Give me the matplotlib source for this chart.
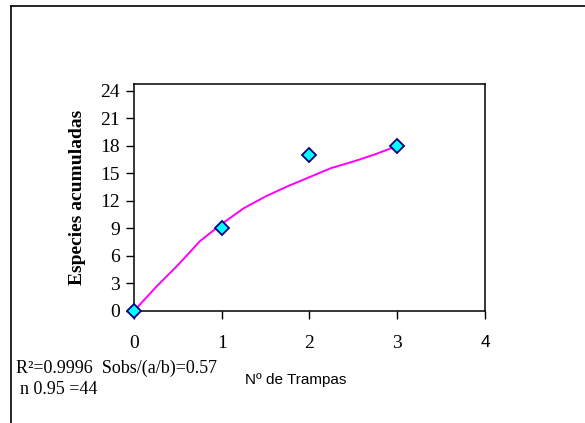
import matplotlib
matplotlib.use("Agg")
import matplotlib.pyplot as plt
from matplotlib.lines import Line2D

# observed points
trampas = [0, 1, 2, 3]
especies = [0, 9, 17, 18]

# fitted curve
curva_x = [0, 0.25, 0.5, 0.75, 1.0, 1.25, 1.5, 1.75, 2.0, 2.25, 2.5, 2.75, 3.0]
curva_y = [0, 2.6, 5.0, 7.6, 9.5, 11.2, 12.5, 13.6, 14.6, 15.6, 16.3, 17.1, 18.0]

yticks = [0, 3, 6, 9, 12, 15, 18, 21, 24]
xticks = [0, 1, 2, 3, 4]

serif = "Liberation Serif"
sans = "Liberation Sans"

fig = plt.figure(figsize=(5.85, 4.23), dpi=100)
ax = fig.add_axes([0.229, 0.2648, 0.6, 0.5366])

ax.plot(curva_x, curva_y, color="#FF00FF", lw=1.4, zorder=2)
ax.plot(trampas, especies, ls="none", marker="D", ms=7.2,
        mfc="#00FFFF", mec="#000080", mew=1.3, zorder=3, clip_on=False)

ax.set_xlim(0, 4)
ax.set_ylim(0, 24.76)
ax.set_xticks(xticks)
ax.set_yticks(yticks)
ax.set_yticklabels([str(v) for v in yticks], fontfamily=serif, fontsize=14)
ax.set_xticklabels([str(v) for v in xticks], fontfamily=serif, fontsize=14)
# last x label is drawn in a sans font in the original
ax.get_xticklabels()[-1].set_fontfamily(sans)
ax.get_xticklabels()[-1].set_fontsize(12.5)
ax.tick_params(axis="x", direction="out", length=6, width=1, pad=11)
ax.tick_params(axis="y", direction="out", length=6, width=1, pad=4)
for s in ax.spines.values():
    s.set_linewidth(1.1)
    s.set_color("black")

ax.set_ylabel("Especies acumuladas", fontfamily=serif, fontsize=14,
              fontweight="bold", labelpad=10)

fig.text(0.506, 0.102, "Nº de Trampas", fontfamily=sans, fontsize=11,
         ha="center", va="center")
fig.text(0.027, 0.130, "R²=0.9996  Sobs/(a/b)=0.57", fontfamily=serif,
         fontsize=13, ha="left", va="center")
fig.text(0.034, 0.080, "n 0.95 =44", fontfamily=serif, fontsize=13,
         ha="left", va="center")

# outer chart border
fig.add_artist(Line2D([0.0188, 0.0188], [0, 0.9858], color="black", lw=1.2))
fig.add_artist(Line2D([0.0188, 1], [0.9858, 0.9858], color="black", lw=1.2))

fig.savefig("out.png", dpi=100)
